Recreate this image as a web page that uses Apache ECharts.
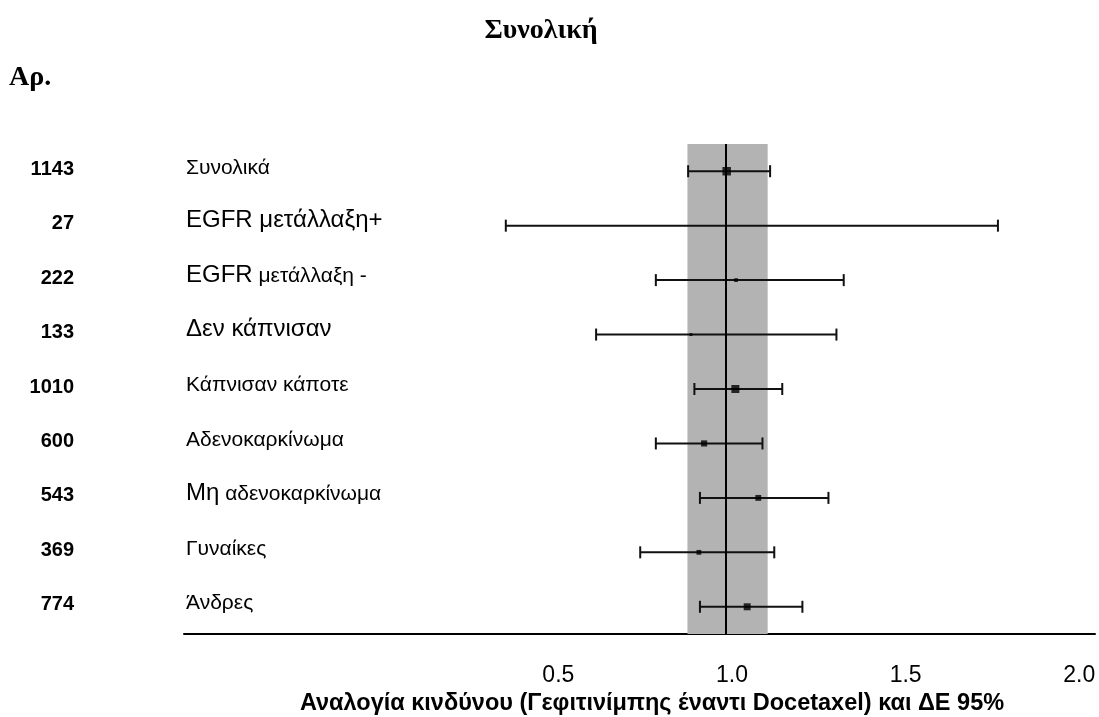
<!DOCTYPE html>
<html>
<head>
<meta charset="utf-8">
<script src="https://cdn.jsdelivr.net/npm/echarts@6/dist/echarts.min.js"></script>
<style>html,body{margin:0;padding:0;background:#fff;}#chart{width:1099px;height:717px;}</style>
</head>
<body>
<div id="chart"></div>
<script>
// ---- data ----
const chartTitle = 'Συνολική';
const countHeader = 'Αρ.';
const xTitle = 'Αναλογία κινδύνου (Γεφιτινίμπης έναντι Docetaxel) και ΔΕ 95%';
const groups = ['Συνολικά', 'EGFR μετάλλαξη+', 'EGFR μετάλλαξη -', 'Δεν κάπνισαν', 'Κάπνισαν κάποτε', 'Αδενοκαρκίνωμα', 'Μη αδενοκαρκίνωμα', 'Γυναίκες', 'Άνδρες'];
const counts = [1143, 27, 222, 133, 1010, 600, 543, 369, 774];
const hazardRatio = [1.002, 1.0, 1.029, 0.899, 1.027, 0.937, 1.093, 0.922, 1.061];
const ciLower = [0.891, 0.366, 0.798, 0.626, 0.909, 0.798, 0.925, 0.753, 0.925];
const ciUpper = [1.127, 1.783, 1.339, 1.318, 1.162, 1.105, 1.295, 1.139, 1.220];
const overallBand = [0.889, 1.120];
const referenceValue = 1.0;
const tickValues = [0.5, 1.0, 1.5, 2.0];
const tickLabels = ['0.5', '1.0', '1.5', '2.0'];

// ---- styling helpers ----
const SANS = '"Liberation Sans", Arial, sans-serif';
const SERIF = '"Liberation Serif", "Times New Roman", serif';
const largeRows = new Set(['EGFR μετάλλαξη+', 'Δεν κάπνισαν']);
const largePrefix = { 'EGFR μετάλλαξη -': 'EGFR', 'Μη αδενοκαρκίνωμα': 'Μη' };

function nameLabel(v) {
  if (largeRows.has(v)) return '{b|' + v + '}';
  if (largePrefix[v]) {
    const p = largePrefix[v];
    return '{b|' + p + '}{s|' + v.slice(p.length) + '}';
  }
  return '{s|' + v + '}';
}

const chart = echarts.init(document.getElementById('chart'), null, { renderer: 'canvas' });

const option = {
  animation: false,
  backgroundColor: '#fff',
  title: [
    { text: chartTitle, left: 536, top: 12, textAlign: 'center',
      textStyle: { fontFamily: SERIF, fontWeight: 'bold', fontSize: 28, color: '#000' } },
    { text: countHeader, left: 4, top: 59,
      textStyle: { fontFamily: SERIF, fontWeight: 'bold', fontSize: 28, color: '#000' } }
  ],
  grid: { left: 184, right: 4, top: 144, height: 490, containLabel: false, outerBoundsMode: 'none' },
  xAxis: {
    type: 'value', min: -0.5606, max: 2.0625,
    axisLine: { show: true, lineStyle: { color: '#000', width: 2 } },
    axisTick: { show: false },
    splitLine: { show: false },
    axisLabel: {
      customValues: tickValues,
      formatter: function (v) {
        for (let i = 0; i < tickValues.length; i++) if (Math.abs(tickValues[i] - v) < 1e-9) return tickLabels[i];
        return '';
      },
      fontFamily: SANS, fontSize: 23, color: '#000', margin: 30, padding: [0, 0, 0, 12]
    },
    name: xTitle, nameLocation: 'middle', nameGap: 54,
    nameTextStyle: { fontFamily: SANS, fontWeight: 'bold', fontSize: 23.5, color: '#000', padding: [0, 0, 0, 25] }
  },
  yAxis: [
    {
      type: 'category', data: groups, inverse: true,
      axisLine: { show: false }, axisTick: { show: false }, splitLine: { show: false },
      axisLabel: {
        inside: true, margin: 2, formatter: nameLabel, padding: [0, 0, 12, 0],
        rich: {
          b: { fontFamily: SANS, fontSize: 24, color: '#000', verticalAlign: 'bottom', lineHeight: 26 },
          s: { fontFamily: SANS, fontSize: 21, color: '#000', verticalAlign: 'bottom', lineHeight: 26 }
        }
      }
    },
    {
      type: 'category', data: groups, inverse: true, position: 'left',
      axisLine: { show: false }, axisTick: { show: false }, splitLine: { show: false },
      axisLabel: {
        margin: 110,
        formatter: function (v) { return '{n|' + counts[groups.indexOf(v)] + '}'; },
        rich: { n: { fontFamily: SANS, fontWeight: 'bold', fontSize: 20, color: '#000', padding: [0, 0, 4, 0] } }
      }
    }
  ],
  series: [
    {
      type: 'line', data: [], z: 1, silent: true,
      markArea: { silent: true, itemStyle: { color: '#b3b3b3' },
        data: [[{ xAxis: overallBand[0] }, { xAxis: overallBand[1] }]] },
      markLine: { silent: true, symbol: 'none', label: { show: false },
        lineStyle: { color: '#000', width: 2, type: 'solid' },
        data: [{ xAxis: referenceValue }] }
    },
    {
      type: 'custom', z: 3, silent: true,
      encode: { x: [0, 1], y: 2 },
      data: groups.map((g, i) => [ciLower[i], ciUpper[i], i]),
      renderItem: function (params, api) {
        const y = api.value(2);
        const a = api.coord([api.value(0), y]);
        const b = api.coord([api.value(1), y]);
        const h = 6;
        const st = { stroke: '#111', lineWidth: 2 };
        return { type: 'group', children: [
          { type: 'line', shape: { x1: a[0], y1: a[1], x2: b[0], y2: b[1] }, style: st },
          { type: 'line', shape: { x1: a[0], y1: a[1] - h, x2: a[0], y2: a[1] + h }, style: st },
          { type: 'line', shape: { x1: b[0], y1: b[1] - h, x2: b[0], y2: b[1] + h }, style: st }
        ] };
      }
    },
    {
      type: 'scatter', z: 4, silent: true,
      symbol: 'rect',
      symbolSize: function (val, params) { return 8.5 * Math.sqrt(counts[params.dataIndex] / counts[0]); },
      itemStyle: { color: '#000' },
      data: hazardRatio.map((v, i) => [v, i])
    }
  ]
};
chart.setOption(option);
</script>
</body>
</html>
